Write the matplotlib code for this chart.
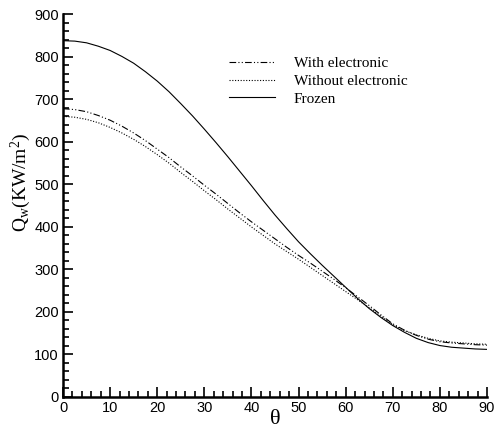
import matplotlib
matplotlib.use("Agg")
import matplotlib.pyplot as plt
from matplotlib.ticker import MultipleLocator

theta = [0, 2.5, 5, 7.5, 10, 12.5, 15, 17.5, 20, 22.5, 25, 27.5, 30, 32.5, 35, 37.5,
         40, 42.5, 45, 47.5, 50, 52.5, 55, 57.5, 60, 62.5, 65, 67.5, 70, 72.5, 75,
         77.5, 80, 82.5, 85, 87.5, 90]
with_electronic = [678, 676, 671, 662, 651, 637, 621, 603, 583, 563, 541, 520, 498, 477,
                   455, 433, 412, 392, 372, 352, 333, 315, 296, 277, 257, 236, 215, 193,
                   172, 157, 145, 136, 130, 127, 125, 123, 122]
without_electronic = [660, 658, 653, 645, 634, 621, 606, 589, 570, 550, 528, 507, 485, 464,
                      442, 421, 400, 380, 360, 342, 324, 305, 286, 267, 248, 229, 210, 190,
                      170, 156, 146, 138, 132, 129, 127, 125, 124]
frozen = [838, 837, 833, 825, 815, 801, 785, 765, 743, 718, 690, 661, 630, 598, 565, 531,
          497, 462, 428, 396, 365, 337, 310, 284, 258, 232, 208, 187, 168, 152, 138, 128,
          121, 117, 115, 113, 112]

plt.rcParams["font.family"] = ["Liberation Sans", "DejaVu Sans"]
plt.rcParams["mathtext.default"] = "regular"

fig = plt.figure(figsize=(5, 4.29), dpi=100)
ax = fig.add_axes([0.126, 0.0746, 0.848, 0.892])

ax.plot(theta, with_electronic, color="black", lw=0.8,
        linestyle=(0, (6, 2, 1, 2, 1, 2)), label="With electronic")
ax.plot(theta, without_electronic, color="black", lw=0.8,
        linestyle=(0, (1, 1.5)), label="Without electronic")
ax.plot(theta, frozen, color="black", lw=0.8, label="Frozen")

ax.set_xlim(0, 90)
ax.set_ylim(0, 900)
ax.xaxis.set_major_locator(MultipleLocator(10))
ax.xaxis.set_minor_locator(MultipleLocator(2))
ax.yaxis.set_major_locator(MultipleLocator(100))
ax.yaxis.set_minor_locator(MultipleLocator(20))

ax.spines["top"].set_visible(False)
ax.spines["right"].set_visible(False)
ax.spines["left"].set_linewidth(1.8)
ax.spines["bottom"].set_linewidth(1.8)
ax.tick_params(which="both", direction="in", width=1.2, labelsize=10.5, pad=3)
ax.tick_params(which="major", length=7)
ax.tick_params(which="minor", length=4)

ax.set_xlabel("θ", fontsize=16, family="Liberation Serif", labelpad=-4)
ax.set_ylabel(r"Q$_{w}$(KW/m$^{2}$)", fontsize=14, family="Liberation Serif")
ax.yaxis.set_label_coords(-0.07, 0.56)

ax.legend(loc="upper left", bbox_to_anchor=(0.36, 0.925), frameon=False,
          prop={"family": "Liberation Serif", "size": 11},
          handlelength=3.0, handletextpad=1.2, labelspacing=0.25)

fig.savefig("out.png", dpi=100)
